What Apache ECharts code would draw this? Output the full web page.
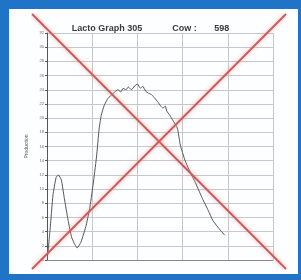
<!DOCTYPE html>
<html>
<head>
<meta charset="utf-8">
<script src="https://cdn.jsdelivr.net/npm/echarts@6/dist/echarts.min.js"></script>
<style>
    html, body {margin: 0; padding: 0;}
    #main {width: 301px; height: 280px;}
</style>
</head>
<body>
<div id="main"></div>
<script>
    // lactation curve, day in milk -> kg
    var days = [1, 4, 8, 12, 15, 19, 23, 28, 33, 40, 45, 52, 57, 62, 66, 69, 72, 76, 81, 88, 94, 98, 101, 105, 108, 112, 116, 120, 124, 127, 131, 135, 139, 143, 147, 151, 154, 157, 159, 163, 167, 173, 177, 183, 190, 197, 207, 214, 220, 230, 236];
    var milk = [0.7, 4.2, 9.2, 11.6, 12.0, 11.3, 8.7, 5.6, 3.1, 1.7, 2.5, 4.9, 7.5, 11.3, 14.8, 18.3, 20.4, 21.8, 22.8, 23.5, 24.0, 23.7, 24.2, 24.0, 24.4, 24.0, 24.5, 24.8, 24.2, 24.5, 23.8, 23.5, 23.3, 22.8, 22.3, 21.7, 21.4, 21.7, 21.0, 20.4, 19.7, 18.6, 16.2, 14.1, 12.4, 10.9, 8.5, 7.0, 5.6, 4.2, 3.5];

    // big red cross over the sheet
    var crossDown = [[0, 1], [1, 0]];
    var crossUp = [[0, 0], [1, 1]];

    var titleText = 'Lacto Graph 305            Cow :       598';
    var yName = 'Production';

    var myChart = echarts.init(document.getElementById('main'));

    var curve = [];
    for (var i = 0; i < days.length; i++) {
        curve.push([days[i], milk[i]]);
    }

    var redLine = {
        color: '#c85a58',
        width: 1.8,
        shadowBlur: 4,
        shadowColor: 'rgba(240,140,140,0.8)'
    };

    myChart.setOption({
        backgroundColor: '#2074c8',
        animation: false,
        graphic: [{
            type: 'rect',
            z: -10,
            shape: {x: 9, y: 9, width: 289, height: 265},
            style: {fill: '#fdfeff'}
        }],
        title: {
            text: titleText,
            left: 'center',
            top: 19,
            textStyle: {
                fontFamily: 'Liberation Sans',
                fontSize: 9,
                fontWeight: 'bold',
                color: '#3a3a3a'
            }
        },
        grid: [
            {left: 47, top: 33, width: 226, height: 227},
            {left: 32, top: 14, width: 254, height: 255}
        ],
        xAxis: [{
            type: 'value',
            gridIndex: 0,
            min: 0,
            max: 300,
            interval: 60,
            axisLine: {lineStyle: {color: '#888', width: 1}},
            axisTick: {show: false},
            axisLabel: {show: false},
            splitLine: {lineStyle: {color: '#c8c8c8', width: 1}}
        }, {
            type: 'value',
            gridIndex: 1,
            min: 0,
            max: 1,
            show: false
        }],
        yAxis: [{
            type: 'value',
            gridIndex: 0,
            min: 0,
            max: 32,
            interval: 2,
            name: yName,
            nameLocation: 'middle',
            nameGap: 12,
            nameTextStyle: {fontSize: 5, color: '#555', fontFamily: 'Liberation Sans'},
            axisLine: {show: true, lineStyle: {color: '#555', width: 1}},
            axisTick: {show: true, length: 2, lineStyle: {color: '#555'}},
            axisLabel: {fontSize: 4, color: '#666', margin: 3, fontFamily: 'Liberation Sans'},
            splitLine: {lineStyle: {color: '#c8c8c8', width: 1}}
        }, {
            type: 'value',
            gridIndex: 1,
            min: 0,
            max: 1,
            show: false
        }],
        series: [{
            name: 'milk',
            type: 'line',
            xAxisIndex: 0,
            yAxisIndex: 0,
            data: curve,
            symbol: 'none',
            smooth: 0.15,
            lineStyle: {color: '#555', width: 1}
        }, {
            name: 'crossDown',
            type: 'line',
            xAxisIndex: 1,
            yAxisIndex: 1,
            data: crossDown,
            symbol: 'none',
            z: 5,
            lineStyle: redLine
        }, {
            name: 'crossUp',
            type: 'line',
            xAxisIndex: 1,
            yAxisIndex: 1,
            data: crossUp,
            symbol: 'none',
            z: 5,
            lineStyle: redLine
        }]
    });
</script>
</body>
</html>
